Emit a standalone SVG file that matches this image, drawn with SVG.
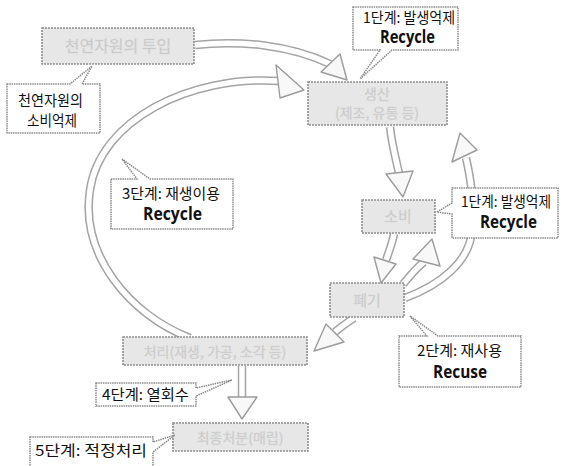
<svg xmlns="http://www.w3.org/2000/svg" width="566" height="466" viewBox="0 0 566 466">
<style>
.bandO{fill:none;stroke:#a4a4a4;stroke-width:8.5;stroke-linecap:butt}
.bandI{fill:none;stroke:#ffffff;stroke-width:5.5;stroke-linecap:butt}
.head{fill:#f8f8f8;stroke:#9c9c9c;stroke-width:1.4;stroke-linejoin:round}
.box{fill:#e7e7e7;stroke:#8e8e8e;stroke-width:1.6;stroke-dasharray:2 1}
.ntxt{fill:#c4c4c4;stroke:#d8d8d8;stroke-width:0.4;font-family:"Noto Sans CJK KR","Noto Sans",sans-serif;text-anchor:middle}
.call{fill:#ffffff;stroke:#8a8a8a;stroke-width:1.5;stroke-dasharray:1.5 0.8;stroke-linejoin:miter}
.ko{fill:#111;font-family:"Noto Sans CJK KR","Noto Sans",sans-serif;font-size:15px}
.en{fill:#111;font-family:"Open Sans","Noto Sans",sans-serif;font-size:17px;font-weight:700}
</style>
<rect width="566" height="466" fill="#ffffff"/>
<g id="connectors">
  <path class="bandO" d="M195,45 C240,40 290,45 330,64"/>
  <path class="bandI" d="M195,45 C240,40 290,45 330,64"/>
  <polygon class="head" points="321,72 340,54 347,80"/>
  <path class="bandO" d="M190,338 C130,315 80,255 90,190 C100,120 190,75 279,81"/>
  <path class="bandI" d="M190,338 C130,315 80,255 90,190 C100,120 190,75 279,81"/>
  <polygon class="head" points="276,65 280,98 304,90"/>
  <path class="bandO" d="M390,127 C392,145 396,160 399,173"/>
  <path class="bandI" d="M390,127 C392,145 396,160 399,173"/>
  <polygon class="head" points="386,174 413,171 403,197"/>
  <path class="bandO" d="M405,298 C440,285 470,262 472,230 C474,200 471,180 466,158"/>
  <path class="bandI" d="M405,298 C440,285 470,262 472,230 C474,200 471,180 466,158"/>
  <polygon class="head" points="452,162 477,150 460,133"/>
  <path class="bandO" d="M394,234 C392,244 389,252 386,260"/>
  <path class="bandI" d="M394,234 C392,244 389,252 386,260"/>
  <polygon class="head" points="374,257 396,264 381,283"/>
  <path class="bandO" d="M403,284 C410,276 416,268 424,262"/>
  <path class="bandI" d="M403,284 C410,276 416,268 424,262"/>
  <polygon class="head" points="413,259 440,266 432,239"/>
  <path class="bandO" d="M354,318 C348,322 342,326 335,332"/>
  <path class="bandI" d="M354,318 C348,322 342,326 335,332"/>
  <polygon class="head" points="326,324 344,342 314,351"/>
  <path class="bandO" d="M242,366 L242,398"/>
  <path class="bandI" d="M242,366 L242,398"/>
  <polygon class="head" points="228,397 257,397 242,419"/>
</g>
<g id="node-input">
  <rect class="box" x="42" y="28" width="152" height="36"/>
  <text class="ntxt" x="118" y="52" font-size="16">천연자원의 투입</text>
</g>
<g id="node-production">
  <rect class="box" x="308" y="82" width="139" height="43"/>
  <text class="ntxt" x="377" y="99" font-size="14">생산</text>
  <text class="ntxt" x="377" y="118" font-size="14">(제조, 유통 등)</text>
</g>
<g id="node-consumption">
  <rect class="box" x="362" y="200" width="73" height="33"/>
  <text class="ntxt" x="398" y="222" font-size="15">소비</text>
</g>
<g id="node-disposal">
  <rect class="box" x="330" y="283" width="74" height="34"/>
  <text class="ntxt" x="367" y="306" font-size="15">폐기</text>
</g>
<g id="node-treatment">
  <rect class="box" x="123" y="337" width="184" height="28"/>
  <text class="ntxt" x="215" y="357" font-size="14">처리(재생, 가공, 소각 등)</text>
</g>
<g id="node-final">
  <rect class="box" x="173" y="423" width="135" height="28"/>
  <text class="ntxt" x="240" y="443" font-size="14">최종처분(매립)</text>
</g>
<g id="callout-a">
  <path class="call" d="M7,84 H70 L92,66 L82,84 H100 V133 H7 Z"/>
  <text class="ko" x="18" y="106" textLength="65" lengthAdjust="spacingAndGlyphs">천연자원의</text>
  <text class="ko" x="27" y="126" textLength="50" lengthAdjust="spacingAndGlyphs">소비억제</text>
</g>
<g id="callout-b">
  <path class="call" d="M353,7 H458 V50 H392 L360,79 L380,50 H353 Z"/>
  <text class="ko" x="363" y="23" textLength="92" lengthAdjust="spacingAndGlyphs">1단계: 발생억제</text>
  <text class="en" x="380" y="43" textLength="55" lengthAdjust="spacingAndGlyphs">Recycle</text>
</g>
<g id="callout-c">
  <path class="call" d="M452,188 H558 V238 H452 V214 L437,212 L452,203 Z"/>
  <text class="ko" x="461" y="207" textLength="90" lengthAdjust="spacingAndGlyphs">1단계: 발생억제</text>
  <text class="en" x="480" y="228" textLength="57" lengthAdjust="spacingAndGlyphs">Recycle</text>
</g>
<g id="callout-d">
  <path class="call" d="M111,179 H137 L122,159 L150,179 H233 V229 H111 Z"/>
  <text class="ko" x="122" y="199" textLength="98" lengthAdjust="spacingAndGlyphs">3단계: 재생이용</text>
  <text class="en" x="143" y="220" textLength="59" lengthAdjust="spacingAndGlyphs">Recycle</text>
</g>
<g id="callout-e">
  <path class="call" d="M399,336 H427 L410,316 L438,336 H521 V387 H399 Z"/>
  <text class="ko" x="417" y="356" textLength="85" lengthAdjust="spacingAndGlyphs">2단계: 재사용</text>
  <text class="en" x="433" y="378" textLength="54" lengthAdjust="spacingAndGlyphs">Recuse</text>
</g>
<g id="callout-f">
  <path class="call" d="M96,383 H196 V388 L232,380 L196,396 V406 H96 Z"/>
  <text class="ko" x="102" y="400" textLength="87" lengthAdjust="spacingAndGlyphs">4단계: 열회수</text>
</g>
<g id="callout-g">
  <path class="call" d="M30,437 H153 V442 L175,435 L153,452 V470 H30 Z"/>
  <text class="ko" x="35" y="456" textLength="112" lengthAdjust="spacingAndGlyphs">5단계: 적정처리</text>
</g>
</svg>
